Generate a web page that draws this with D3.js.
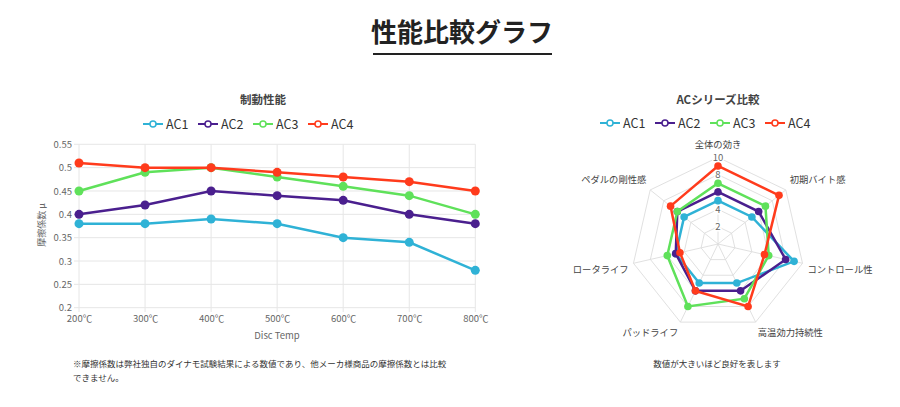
<!DOCTYPE html>
<html><head><meta charset="utf-8">
<script src="https://cdn.jsdelivr.net/npm/d3@7/dist/d3.min.js"></script>
<style>
html,body{margin:0;padding:0;background:#fff;}
svg{display:block;font-family:"Noto Sans CJK JP","Noto Sans",sans-serif;}
</style></head>
<body>
<svg id="c" width="900" height="407"></svg>
<script>
const seriesNames = ["AC1","AC2","AC3","AC4"];
const seriesColors = ["#2fb2d6","#4a1f8e","#5fe15a","#ff3b1c"];
const temps = ["200℃","300℃","400℃","500℃","600℃","700℃","800℃"];
const yTicks = [0.2,0.25,0.3,0.35,0.4,0.45,0.5,0.55];
const ac1Line = [0.38,0.38,0.39,0.38,0.35,0.34,0.28];
const ac2Line = [0.40,0.42,0.45,0.44,0.43,0.40,0.38];
const ac3Line = [0.45,0.49,0.50,0.48,0.46,0.44,0.40];
const ac4Line = [0.51,0.50,0.50,0.49,0.48,0.47,0.45];
const radarAxes = ["全体の効き","初期バイト感","コントロール性","高温効力持続性","パッドライフ","ロータライフ","ペダルの剛性感"];
const radarTicks = [2,4,6,8,10];
const ac1Radar = [5,5,9,5,5,5,5];
const ac2Radar = [6,6,8,6,6,5,6];
const ac3Radar = [7,7,6,7,8,6,6];
const ac4Radar = [9,9,5.5,8,6,4.5,7];

const lineData = [ac1Line,ac2Line,ac3Line,ac4Line];
const radarData = [ac1Radar,ac2Radar,ac3Radar,ac4Radar];
const svg = d3.select("#c");

// Main title
svg.append("text").attr("x",462).attr("y",42).attr("text-anchor","middle")
  .attr("font-size",26).attr("font-weight","bold").attr("fill","#222").text("性能比較グラフ");
svg.append("line").attr("x1",373).attr("x2",552).attr("y1",54).attr("y2",54)
  .attr("stroke","#222").attr("stroke-width",2);

function legend(g, cx, y){
  const step = 55;
  const start = cx - step*2;
  seriesNames.forEach((n,i)=>{
    const x0 = start + i*step - 13;
    g.append("line").attr("x1",x0).attr("x2",x0+20).attr("y1",y).attr("y2",y)
      .attr("stroke",seriesColors[i]).attr("stroke-width",2);
    g.append("circle").attr("cx",x0+10).attr("cy",y).attr("r",3)
      .attr("fill","#fff").attr("stroke",seriesColors[i]).attr("stroke-width",1.5);
    g.append("text").attr("x",x0+23).attr("y",y+4.5).attr("font-size",12.5)
      .attr("fill","#333").text(n);
  });
}

// ---------- Line chart ----------
const lg = svg.append("g");
lg.append("text").attr("x",263).attr("y",104).attr("text-anchor","middle")
  .attr("font-size",11.5).attr("font-weight","bold").attr("fill","#444").text("制動性能");
legend(lg, 266, 124);

const x = d3.scalePoint().domain(temps).range([79,475.3]);
const y = d3.scaleLinear().domain([0.2,0.55]).range([307.7,144.3]);

lg.append("g").selectAll("line").data(yTicks).join("line")
  .attr("x1",74).attr("x2",475.3).attr("y1",d=>y(d)).attr("y2",d=>y(d))
  .attr("stroke","#e6e6e6").attr("stroke-width",1);
lg.append("g").selectAll("line").data(temps).join("line")
  .attr("x1",d=>x(d)).attr("x2",d=>x(d)).attr("y1",144.3).attr("y2",312)
  .attr("stroke","#e6e6e6").attr("stroke-width",1);

const yAxis = lg.append("g").attr("transform","translate(79,0)")
  .call(d3.axisLeft(y).tickValues(yTicks).tickFormat(d=>String(+d.toFixed(2))).tickSize(0).tickPadding(7));
yAxis.select(".domain").remove();
yAxis.selectAll("text").attr("font-size",9.5).attr("fill","#666").attr("font-family","'Noto Sans CJK JP',sans-serif");

const xAxis = lg.append("g").attr("transform","translate(0,307.7)")
  .call(d3.axisBottom(x).tickSize(0).tickPadding(8));
xAxis.select(".domain").remove();
xAxis.selectAll("text").attr("font-size",9.5).attr("fill","#666").attr("font-family","'Noto Sans CJK JP',sans-serif");

lg.append("text").attr("x",277).attr("y",339).attr("text-anchor","middle")
  .attr("font-size",9.5).attr("fill","#666").text("Disc Temp");
lg.append("text").attr("transform","translate(45,225) rotate(-90)").attr("text-anchor","middle")
  .attr("font-size",9).attr("fill","#666").text("摩擦係数 μ");

const lineGen = d3.line().x((d,i)=>x(temps[i])).y(d=>y(d));
lineData.forEach((s,k)=>{
  lg.append("path").datum(s).attr("d",lineGen).attr("fill","none")
    .attr("stroke",seriesColors[k]).attr("stroke-width",2.5);
  lg.append("g").selectAll("circle").data(s).join("circle")
    .attr("cx",(d,i)=>x(temps[i])).attr("cy",d=>y(d)).attr("r",4.5)
    .attr("fill",seriesColors[k]);
});

svg.append("text").attr("x",73).attr("y",367).attr("font-size",8.5).attr("fill","#333")
  .text("※摩擦係数は弊社独自のダイナモ試験結果による数値であり、他メーカ様商品の摩擦係数とは比較");
svg.append("text").attr("x",73).attr("y",381).attr("font-size",8.5).attr("fill","#333")
  .text("できません。");

// ---------- Radar chart ----------
const rg = svg.append("g");
rg.append("text").attr("x",718).attr("y",104).attr("text-anchor","middle")
  .attr("font-size",11.5).attr("font-weight","bold").attr("fill","#444").text("ACシリーズ比較");
legend(rg, 723, 123);

const cx = 718, cy = 244;
const r = d3.scaleLinear().domain([0,10]).range([0,86.7]);
const n = radarAxes.length;
const ang = i => i*2*Math.PI/n;
const pt = (i,v) => [cx + Math.sin(ang(i))*r(v), cy - Math.cos(ang(i))*r(v)];

const grid = rg.append("g");
radarTicks.forEach(t=>{
  grid.append("polygon").attr("points",radarAxes.map((a,i)=>pt(i,t).join(",")).join(" "))
    .attr("fill","none").attr("stroke","#dcdcdc").attr("stroke-width",0.9);
});
radarAxes.forEach((a,i)=>{
  const p = pt(i,10);
  grid.append("line").attr("x1",cx).attr("y1",cy).attr("x2",p[0]).attr("y2",p[1])
    .attr("stroke","#dcdcdc").attr("stroke-width",0.9);
});
radarTicks.forEach(t=>{
  grid.append("text").attr("x",cx).attr("y",cy - r(t)+3.5).attr("text-anchor","middle")
    .attr("font-size",9.5).attr("fill","#666").attr("stroke","#fff").attr("stroke-width",3)
    .attr("paint-order","stroke").text(t);
});
radarAxes.forEach((a,i)=>{
  const s = Math.sin(ang(i)), c = Math.cos(ang(i));
  const R = r(10)+5;
  const px = cx + s*R, py = cy - c*R;
  const anchor = Math.abs(s)<0.01 ? "middle" : (s>0 ? "start" : "end");
  const ty = c > 0.01 ? py - 4 : py + 9;
  grid.append("text").attr("x",px).attr("y",ty).attr("text-anchor",anchor)
    .attr("font-size",9.3).attr("fill","#444").text(a);
});

radarData.forEach((s,k)=>{
  rg.append("polygon").attr("points",s.map((v,i)=>pt(i,v).join(",")).join(" "))
    .attr("fill","none").attr("stroke",seriesColors[k]).attr("stroke-width",2.5);
  rg.append("g").selectAll("circle").data(s).join("circle")
    .attr("cx",(v,i)=>pt(i,v)[0]).attr("cy",(v,i)=>pt(i,v)[1]).attr("r",3.8)
    .attr("fill",seriesColors[k]);
});

svg.append("text").attr("x",717).attr("y",367).attr("text-anchor","middle")
  .attr("font-size",8.5).attr("fill","#333").text("数値が大きいほど良好を表します");
</script>
</body></html>
